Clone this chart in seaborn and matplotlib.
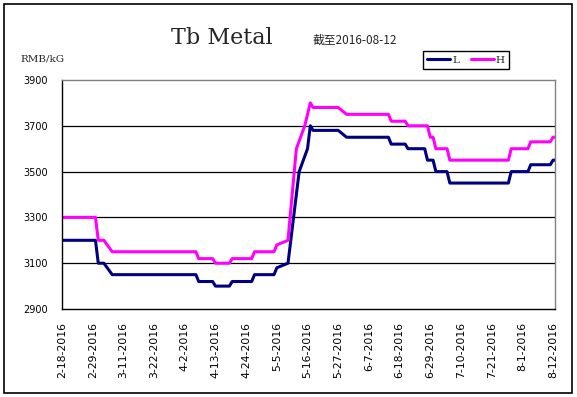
import matplotlib
matplotlib.use("Agg")
import matplotlib.pyplot as plt
import seaborn as sns
import pandas as pd
import numpy as np
from matplotlib.patches import Rectangle

# ---- data (day offsets from 2016-02-18, price RMB/kG) ----
start_date = "2016-02-18"
L_days = [0, 12, 13, 15, 18, 48, 49, 54, 55, 60, 61, 68, 69, 76, 77, 81, 85, 88, 89, 90,
          99, 102, 117, 118, 123, 124, 130, 131, 133, 134, 138, 139, 160, 161, 167, 168,
          175, 176, 177]
L_values = [3200, 3200, 3100, 3100, 3050, 3050, 3020, 3020, 3000, 3000, 3020, 3020, 3050,
            3050, 3080, 3100, 3500, 3600, 3700, 3680, 3680, 3650, 3650, 3620, 3620, 3600,
            3600, 3550, 3550, 3500, 3500, 3450, 3450, 3500, 3500, 3530, 3530, 3550, 3550]
H_days = [0, 12, 13, 15, 18, 48, 49, 54, 55, 60, 61, 68, 69, 76, 77, 81, 84, 87, 89, 90,
          99, 102, 117, 118, 123, 124, 131, 132, 133, 134, 138, 139, 160, 161, 167, 168,
          175, 176, 177]
H_values = [3300, 3300, 3200, 3200, 3150, 3150, 3120, 3120, 3100, 3100, 3120, 3120, 3150,
            3150, 3180, 3200, 3600, 3700, 3800, 3780, 3780, 3750, 3750, 3720, 3720, 3700,
            3700, 3650, 3650, 3600, 3600, 3550, 3550, 3600, 3600, 3630, 3630, 3650, 3650]
tick_days = list(range(0, 177, 11))
y_ticks = [2900, 3100, 3300, 3500, 3700, 3900]

title = "Tb Metal"
subtitle = "截至2016-08-12"
unit = "RMB/kG"

sns.set_style("white")
plt.rcParams['font.family'] = ['DejaVu Sans', 'Noto Sans CJK SC']

W, H = 577, 397
fig = plt.figure(figsize=(W / 100, H / 100), dpi=100)
ax = fig.add_axes([62 / W, 1 - 309 / H, (555 - 62) / W, (309 - 80) / H])

dfL = pd.DataFrame({"day": L_days, "price": L_values})
dfH = pd.DataFrame({"day": H_days, "price": H_values})
sns.lineplot(data=dfL, x="day", y="price", color="#000080", linewidth=2.2, ax=ax, label="L")
sns.lineplot(data=dfH, x="day", y="price", color="#FF00FF", linewidth=2.2, ax=ax, label="H")

ax.set_xlim(0, 176.7)
ax.set_ylim(2900, 3900)
ax.set_yticks(y_ticks)
ax.set_yticklabels([str(v) for v in y_ticks])
base = pd.Timestamp(start_date)
labels = []
for d in tick_days:
    t = base + pd.Timedelta(days=d)
    labels.append(f"{t.month}-{t.day}-{t.year}")
ax.set_xticks(tick_days)
ax.set_xticklabels(labels, rotation=90)
ax.set_xlabel("")
ax.set_ylabel("")

for v in y_ticks[1:-1]:
    ax.axhline(v, color="black", linewidth=0.9, zorder=0)

for s in ["left", "bottom"]:
    ax.spines[s].set_color("black")
    ax.spines[s].set_linewidth(1.0)
for s in ["top", "right"]:
    ax.spines[s].set_color("#808080")
    ax.spines[s].set_linewidth(1.0)
    ax.spines[s].set_visible(True)

ax.tick_params(axis="y", direction="in", length=4, width=0.9, pad=10, labelsize=7, colors="black")
ax.tick_params(axis="x", direction="in", length=4, width=0.9, pad=9, labelsize=7.8, colors="black")

ax.get_legend().remove()
handles, lbls = ax.get_legend_handles_labels()
leg = fig.legend(handles, lbls, loc="center", bbox_to_anchor=(466 / W, 1 - 60 / H), ncol=2,
                 frameon=True, fancybox=False, edgecolor="black", framealpha=1,
                 handlelength=2.2, handletextpad=0.2, columnspacing=1.1, borderpad=0.4,
                 prop={"family": "DejaVu Serif", "size": 7.5})
leg.get_frame().set_linewidth(1.0)

fig.text(222 / W, 1 - 38 / H, title, ha="center", va="center", family="DejaVu Serif", size=16)
fig.text(313 / W, 1 - 40 / H, subtitle, ha="left", va="center",
         family=["Noto Sans CJK SC", "DejaVu Sans"], size=8.5)
fig.text(20 / W, 1 - 59 / H, unit, ha="left", va="center", family="DejaVu Serif", size=7.5)

fig.patches.append(Rectangle((4 / W, 4 / H), (572 - 4) / W, (393 - 4) / H, transform=fig.transFigure,
                             fill=False, edgecolor="black", linewidth=1.2))

fig.savefig("out.png", dpi=100)
